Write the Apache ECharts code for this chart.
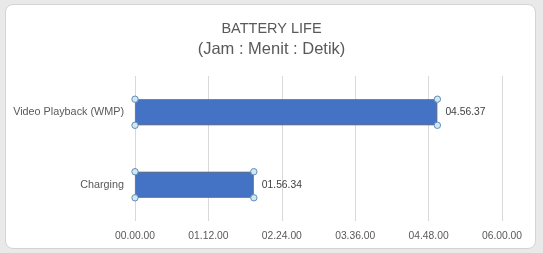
<!DOCTYPE html>
<html>
<head>
<meta charset="utf-8">
<script src="https://cdn.jsdelivr.net/npm/echarts@6/dist/echarts.min.js"></script>
<style>
  html, body { margin: 0; padding: 0; background: #e6e6e6; }
  #frame { position: absolute; left: 0; top: 0; width: 543px; height: 253px; background: #e9e9e9; }
  #box { position: absolute; left: 5px; top: 4px; width: 529px; height: 243px; background: #fff; border: 1px solid #d4d4d4; border-radius: 8px; }
  #chart { position: absolute; left: 0; top: 0; width: 543px; height: 253px; }
</style>
</head>
<body>
<div id="frame"><div id="box"></div></div>
<div id="chart"></div>
<script>
const categories = ['Video Playback (WMP)', 'Charging'];
const durations = ['04.56.37', '01.56.34'];
const axisMaxTime = '06.00.00';
const axisStepTime = '01.12.00';
const titleLine = 'BATTERY LIFE';
const subtitleLine = '(Jam : Menit : Detik)';

function toSec(s) { const p = s.split('.').map(Number); return p[0] * 3600 + p[1] * 60 + p[2]; }
function fmt(v) {
  const h = Math.floor(v / 3600), m = Math.floor((v % 3600) / 60), s = Math.round(v % 60);
  const z = n => String(n).padStart(2, '0');
  return z(h) + '.' + z(m) + '.' + z(s);
}
const values = durations.map(toSec);
const BAR_RATIO = 0.36;

const chart = echarts.init(document.getElementById('chart'), null, { renderer: 'canvas' });
const font = '"Liberation Sans", Arial, sans-serif';
chart.setOption({
  backgroundColor: 'transparent',
  animation: false,
  title: {
    text: '{a|' + titleLine + '}\n{b|' + subtitleLine + '}',
    left: 'center',
    top: 13,
    textStyle: {
      fontWeight: 'normal',
      rich: {
        a: { fontFamily: font, fontSize: 14.5, fontWeight: 'normal', color: '#595959', lineHeight: 21, align: 'center' },
        b: { fontFamily: font, fontSize: 16.5, fontWeight: 'normal', color: '#595959', lineHeight: 21, align: 'center' }
      }
    }
  },
  grid: { left: 135, right: 41, top: 76, bottom: 32, containLabel: false },
  xAxis: {
    type: 'value',
    min: 0,
    max: toSec(axisMaxTime),
    interval: toSec(axisStepTime),
    axisLine: { show: false },
    axisTick: { show: false },
    splitLine: { lineStyle: { color: '#d9d9d9', width: 1 } },
    axisLabel: { formatter: fmt, color: '#595959', fontFamily: font, fontSize: 10.3, margin: 10 }
  },
  yAxis: {
    type: 'category',
    data: categories,
    inverse: true,
    axisLine: { show: false },
    axisTick: { show: false },
    axisLabel: { color: '#595959', fontFamily: font, fontSize: 10.8, margin: 11 }
  },
  series: [
    {
      type: 'bar',
      data: values,
      barWidth: (BAR_RATIO * 100) + '%',
      itemStyle: { color: '#4472c4', borderColor: '#6f6f6f', borderWidth: 0.8 },
      label: {
        show: true, position: 'right', distance: 8,
        formatter: p => fmt(p.value),
        color: '#404040', fontFamily: font, fontSize: 10.3
      }
    },
    {
      type: 'custom',
      data: values.map((v, i) => [v, i]),
      z: 5,
      renderItem: function (params, api) {
        const cat = api.value(1);
        const end = api.coord([api.value(0), cat]);
        const start = api.coord([0, cat]);
        const half = api.size([0, 1])[1] * BAR_RATIO / 2;
        const pts = [[start[0], end[1] - half], [start[0], end[1] + half], [end[0], end[1] - half], [end[0], end[1] + half]];
        return {
          type: 'group',
          children: pts.map(p => ({
            type: 'circle',
            shape: { cx: p[0], cy: p[1], r: 3.2 },
            style: { fill: '#d5e6f3', stroke: '#5f8fb8', lineWidth: 1 }
          }))
        };
      }
    }
  ]
});
</script>
</body>
</html>
